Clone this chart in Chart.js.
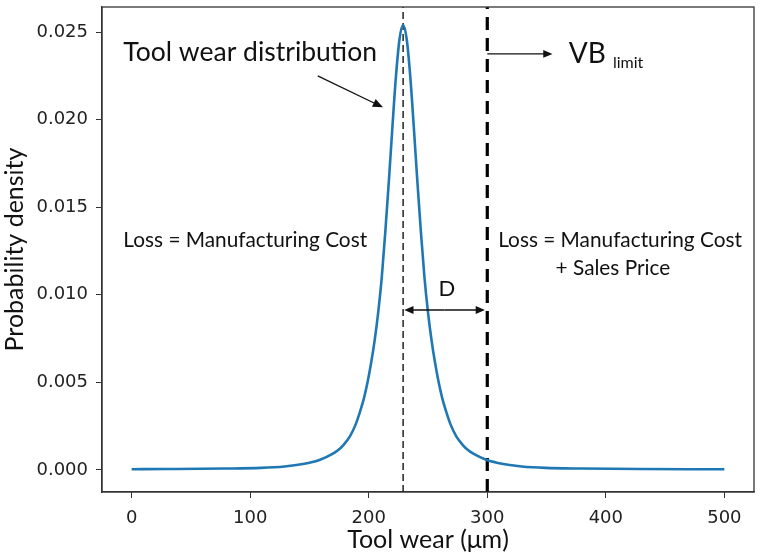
<!DOCTYPE html>
<html lang="en">
<head>
<meta charset="UTF-8">
<title>Tool wear distribution</title>
<script src="https://cdn.jsdelivr.net/npm/chart.js"></script>
<style>
    body { margin: 0; background: #fff; }
    #wrap { width: 762px; height: 559px; }
</style>
</head>
<body>
<div id="wrap"><canvas id="wearChart"></canvas></div>
<script>
    // tool wear (um) and probability density
    const wear = [0, 29, 79, 109, 129, 139, 149, 159, 169, 174, 179, 184, 189, 193, 196, 199, 202, 205, 208, 211, 214, 217, 220, 223, 226,
        229, 232, 235, 238, 241, 244, 247, 250, 253, 256, 259, 262, 265, 269, 274, 279, 284, 289, 299, 309, 319, 329, 349, 379, 429, 500];
    const density = [0.00004, 0.00005, 0.00008, 0.00012, 0.00020, 0.00028, 0.00040, 0.00058, 0.00090, 0.00112, 0.00145, 0.0019, 0.0026, 0.0034, 0.0041, 0.0050, 0.0061, 0.0074, 0.0090, 0.0110, 0.0136, 0.0165, 0.0196, 0.0225, 0.0246,
        0.0254, 0.0246, 0.0225, 0.0196, 0.0165, 0.0136, 0.0110, 0.0090, 0.0074, 0.0061, 0.0050, 0.0041, 0.0034, 0.0026, 0.0019, 0.00145, 0.00112, 0.00090, 0.00058, 0.00040, 0.00028, 0.00020, 0.00012, 0.00008, 0.00005, 0.00004];
    const meanWear = 229;
    const vbLimit = 300;
    const xTicks = [0, 100, 200, 300, 400, 500];
    const yTicks = [0, 0.005, 0.010, 0.015, 0.020, 0.025];
    const xMin = -25, xMax = 525;
    const yMin = -0.00126, yMax = 0.02643;

    const annoFont = 'Lato, "Open Sans", sans-serif';

    function arrow(ctx, x1, y1, x2, y2, head) {
        const a = Math.atan2(y2 - y1, x2 - x1);
        ctx.beginPath();
        ctx.moveTo(x1, y1);
        ctx.lineTo(x2 - Math.cos(a) * head * 0.8, y2 - Math.sin(a) * head * 0.8);
        ctx.stroke();
        ctx.beginPath();
        ctx.moveTo(x2, y2);
        ctx.lineTo(x2 - head * Math.cos(a - 0.4), y2 - head * Math.sin(a - 0.4));
        ctx.lineTo(x2 - head * Math.cos(a + 0.4), y2 - head * Math.sin(a + 0.4));
        ctx.closePath();
        ctx.fill();
    }

    const notes = {
        id: 'notes',
        afterDatasetsDraw(chart) {
            const ctx = chart.ctx;
            const sx = chart.scales.x, sy = chart.scales.y;
            const X = v => sx.getPixelForValue(v), Y = v => sy.getPixelForValue(v);
            const a = chart.chartArea;
            ctx.save();
            // box round the plot
            ctx.strokeStyle = '#333';
            ctx.lineWidth = 1.3;
            ctx.strokeRect(a.left, a.top, a.right - a.left, a.bottom - a.top);

            ctx.fillStyle = '#111';
            ctx.strokeStyle = '#111';
            ctx.lineWidth = 1.3;
            ctx.textBaseline = 'middle';

            ctx.font = '26.5px ' + annoFont;
            ctx.textAlign = 'left';
            ctx.fillText('Tool wear distribution', X(-7), Y(0.02386));
            arrow(ctx, X(157), Y(0.0225), X(212), Y(0.0207), 11);

            ctx.font = '20.8px ' + annoFont;
            ctx.fillText('Loss = Manufacturing Cost', X(-7), Y(0.01313));
            ctx.textAlign = 'center';
            ctx.fillText('Loss = Manufacturing Cost', X(412), Y(0.01313));
            ctx.fillText('+ Sales Price', X(406), Y(0.01153));

            ctx.font = '22px ' + annoFont;
            ctx.fillText('D', X(266), Y(0.01033));
            // double arrow D
            arrow(ctx, X(264), Y(0.00913), X(meanWear + 1), Y(0.00913), 10);
            arrow(ctx, X(264), Y(0.00913), X(vbLimit - 2), Y(0.00913), 10);

            // VB limit
            arrow(ctx, X(vbLimit), Y(0.02375), X(355), Y(0.02375), 10);
            ctx.textAlign = 'left';
            ctx.textBaseline = 'alphabetic';
            ctx.font = '28px ' + annoFont;
            ctx.fillText('VB', X(368.8), Y(0.02323));
            const w = ctx.measureText('VB').width;
            ctx.font = '16px ' + annoFont;
            ctx.fillText('limit', X(368.8) + w + 7, Y(0.02295));
            ctx.restore();
        }
    };

    const curve = wear.map((x, i) => ({ x: x, y: density[i] }));

    new Chart(document.getElementById('wearChart'), {
        type: 'scatter',
        data: {
            datasets: [
                {
                    data: curve,
                    showLine: true,
                    borderColor: '#1f77b4',
                    borderWidth: 2.6,
                    pointRadius: 0,
                    cubicInterpolationMode: 'monotone'
                },
                {
                    data: [{ x: meanWear, y: yMin }, { x: meanWear, y: yMax }],
                    showLine: true,
                    borderColor: '#000',
                    borderWidth: 1.3,
                    borderDash: [7, 4],
                    pointRadius: 0
                },
                {
                    data: [{ x: vbLimit, y: yMin }, { x: vbLimit, y: yMax }],
                    showLine: true,
                    borderColor: '#000',
                    borderWidth: 3.2,
                    borderDash: [13, 8],
                    pointRadius: 0
                }
            ]
        },
        options: {
            responsive: true,
            maintainAspectRatio: false,
            animation: false,
            layout: { padding: { top: 7, right: 8, left: 0, bottom: 0 } },
            plugins: { legend: { display: false }, tooltip: { enabled: false } },
            scales: {
                x: {
                    type: 'linear',
                    min: xMin,
                    max: xMax,
                    afterBuildTicks: s => { s.ticks = xTicks.map(v => ({ value: v })); },
                    afterFit: s => { s.height = 67; s.paddingLeft = 0; s.paddingRight = 0; },
                    grid: { drawOnChartArea: false, drawTicks: true, tickLength: 6, tickColor: '#333' },
                    border: { display: true, color: '#333', width: 1.3 },
                    ticks: { color: '#222', font: { family: '"DejaVu Sans"', size: 18 }, padding: 10, maxRotation: 0 },
                    title: { display: true, text: 'Tool wear (μm)', color: '#111', font: { family: annoFont, size: 25 }, padding: { top: 0, bottom: 4 } }
                },
                y: {
                    type: 'linear',
                    min: yMin,
                    max: yMax,
                    afterBuildTicks: s => { s.ticks = yTicks.map(v => ({ value: v })); },
                    afterFit: s => { s.width = 102; s.paddingTop = 0; s.paddingBottom = 0; },
                    grid: { drawOnChartArea: false, drawTicks: true, tickLength: 6, tickColor: '#333' },
                    border: { display: true, color: '#333', width: 1.3 },
                    ticks: { color: '#222', font: { family: '"DejaVu Sans"', size: 18 }, padding: 8, callback: v => v.toFixed(3) },
                    title: { display: true, text: 'Probability density', color: '#111', font: { family: annoFont, size: 25 }, padding: { top: 0, bottom: 0 } }
                }
            }
        },
        plugins: [notes]
    });
</script>
</body>
</html>
